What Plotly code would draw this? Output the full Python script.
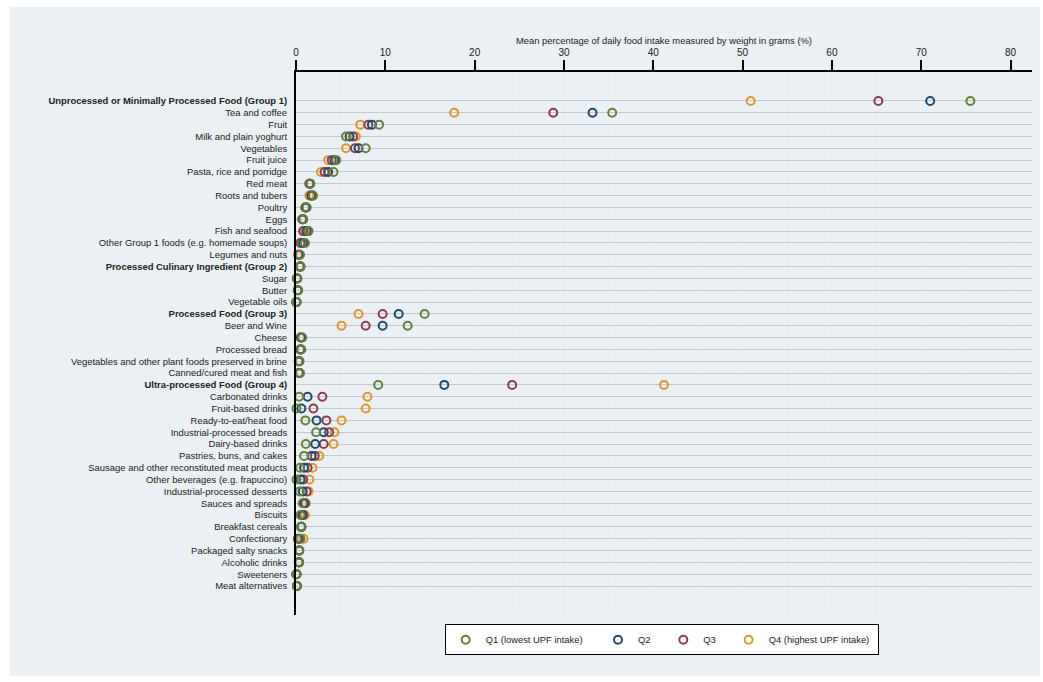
import plotly.graph_objects as go

# Food groups / subgroups, top to bottom
categories = [
    "Unprocessed or Minimally Processed Food (Group 1)",
    "Tea and coffee",
    "Fruit",
    "Milk and plain yoghurt",
    "Vegetables",
    "Fruit juice",
    "Pasta, rice and porridge",
    "Red meat",
    "Roots and tubers",
    "Poultry",
    "Eggs",
    "Fish and seafood",
    "Other Group 1 foods (e.g. homemade soups)",
    "Legumes and nuts",
    "Processed Culinary Ingredient (Group 2)",
    "Sugar",
    "Butter",
    "Vegetable oils",
    "Processed Food (Group 3)",
    "Beer and Wine",
    "Cheese",
    "Processed bread",
    "Vegetables and other plant foods preserved in brine",
    "Canned/cured meat and fish",
    "Ultra-processed Food (Group 4)",
    "Carbonated drinks",
    "Fruit-based drinks",
    "Ready-to-eat/heat food",
    "Industrial-processed breads",
    "Dairy-based drinks",
    "Pastries, buns, and cakes",
    "Sausage and other reconstituted meat products",
    "Other beverages (e.g. frapuccino)",
    "Industrial-processed desserts",
    "Sauces and spreads",
    "Biscuits",
    "Breakfast cereals",
    "Confectionary",
    "Packaged salty snacks",
    "Alcoholic drinks",
    "Sweeteners",
    "Meat alternatives",
]

group_rows = [
    "Unprocessed or Minimally Processed Food (Group 1)",
    "Processed Culinary Ingredient (Group 2)",
    "Processed Food (Group 3)",
    "Ultra-processed Food (Group 4)",
]

# Mean % of daily intake (by weight) per UPF-intake quartile
q1 = [75.5, 35.4, 9.3, 5.6, 7.8, 4.5, 4.2, 1.6, 1.9, 1.2, 0.8, 1.4, 1.0, 0.45,
      0.5, 0.15, 0.25, 0.05,
      14.4, 12.5, 0.7, 0.6, 0.4, 0.45,
      9.2, 0.35, 0.05, 1.05, 2.25, 1.1, 0.9, 0.45, 0.05, 0.4, 0.75, 0.5, 0.55,
      0.5, 0.35, 0.35, 0.05, 0.1]
q2 = [71.0, 33.2, 8.5, 6.0, 7.0, 4.3, 3.6, 1.6, 1.8, 1.1, 0.8, 1.2, 0.8, 0.35,
      0.5, 0.15, 0.2, 0.05,
      11.5, 9.7, 0.6, 0.55, 0.35, 0.4,
      16.6, 1.3, 0.6, 2.3, 3.1, 2.15, 1.75, 0.9, 0.5, 0.75, 0.9, 0.7, 0.6,
      0.4, 0.35, 0.35, 0.05, 0.1]
q3 = [65.2, 28.8, 8.1, 6.4, 6.6, 4.0, 3.2, 1.5, 1.7, 1.1, 0.7, 0.8, 0.5, 0.3,
      0.45, 0.1, 0.2, 0.05,
      9.7, 7.8, 0.55, 0.5, 0.3, 0.35,
      24.2, 2.95, 1.95, 3.4, 3.7, 3.1, 2.1, 1.3, 0.8, 1.2, 1.0, 0.8, 0.6,
      0.2, 0.35, 0.3, 0.05, 0.1]
q4 = [50.9, 17.7, 7.2, 6.7, 5.6, 3.6, 2.8, 1.5, 1.5, 1.0, 0.7, 1.0, 0.6, 0.2,
      0.4, 0.1, 0.2, 0.05,
      7.0, 5.1, 0.5, 0.45, 0.3, 0.3,
      41.2, 8.0, 7.8, 5.1, 4.3, 4.2, 2.6, 1.85, 1.5, 1.4, 1.1, 1.0, 0.6,
      0.85, 0.4, 0.3, 0.05, 0.1]

PAD = "\u00a0" * 4
series = [
    ("Q4 (highest UPF intake)", q4, "#e0962e", 4, "\u00a0"),
    ("Q3", q3, "#8c3d4f", 3, "\u00a0" * 3),
    ("Q2", q2, "#1f4a6e", 2, "\u00a0" * 3),
    ("Q1 (lowest UPF intake)", q1, "#62823d", 1, PAD),
]

FONT = "Liberation Sans, Arial, Helvetica, sans-serif"

fig = go.Figure()
for name, vals, color, rank, pad in series:
    fig.add_trace(go.Scatter(
        x=vals, y=categories, mode="markers", name=name + pad,
        legendrank=rank,
        marker=dict(symbol="circle-open", size=8, color=color,
                    line=dict(width=2, color=color)),
        cliponaxis=False,
    ))

ticktext = [f"<b>{c}</b>" if c in group_rows else c for c in categories]

# Page background panel around the white plot area
fig.add_shape(type="rect", xref="paper", yref="paper",
              x0=-0.389, x1=1.011, y0=-0.112, y1=1.12,
              fillcolor="#eaf0f3", line=dict(width=0), layer="below")

fig.update_layout(
    width=1043, height=682,
    margin=dict(l=296, r=11, t=72, b=67),
    paper_bgcolor="white",
    plot_bgcolor="white",
    font=dict(family=FONT, size=9.4, color="#222"),
    showlegend=True,
    legend=dict(
        orientation="h", x=0.202, y=-0.017, xanchor="left", yanchor="top",
        bgcolor="white", bordercolor="black", borderwidth=1,
        font=dict(size=9.4, color="#222"),
        traceorder="normal", itemwidth=30,
    ),
    xaxis=dict(
        side="top", range=[0, 82.4], dtick=10, tick0=0,
        ticks="outside", ticklen=10, tickwidth=2, tickcolor="black",
        showline=True, linecolor="black", linewidth=2,
        showgrid=True, gridcolor="#ececec", gridwidth=1,
        minor=dict(dtick=5, showgrid=True, gridcolor="#ececec", gridwidth=1),
        zeroline=False,
        tickfont=dict(size=10, color="#222"),
        title=dict(text="Mean percentage of daily food intake measured by weight in grams (%)",
                   font=dict(size=9.4, color="#222"), standoff=1),
    ),
    yaxis=dict(
        type="category", categoryorder="array", categoryarray=categories,
        range=[43.45, -2.45],
        tickvals=categories, ticktext=ticktext,
        showline=True, linecolor="black", linewidth=2,
        showgrid=True, gridcolor="#c8c8c8", gridwidth=1.2,
        ticks="", ticklabelstandoff=5,
        tickfont=dict(size=9.45, color="#222"),
        zeroline=False,
    ),
)

fig.write_html("out.html")
